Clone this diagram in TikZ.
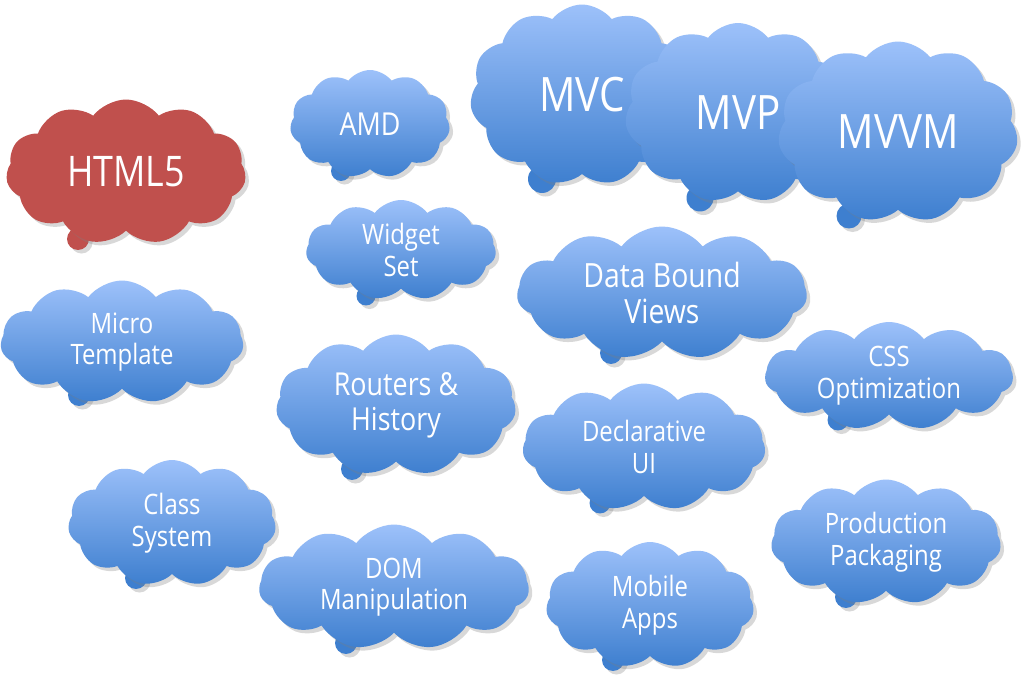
\documentclass[tikz,border=0pt]{standalone}
\usepackage{fontspec}
\setmainfont[FakeStretch=0.85]{Open Sans}
\usetikzlibrary{shapes.symbols,shadows}
\definecolor{cloudtop}{RGB}{157,193,250}
\definecolor{cloudbot}{RGB}{62,127,207}
\definecolor{htmlred}{RGB}{192,80,77}
\newcommand{\bigcloudfont}{\fontsize{27}{29}\selectfont}
\tikzset{
  cloudbox/.style={cloud, cloud puffs=11, cloud puff arc=105, cloud ignores aspect,
    inner sep=0pt, top color=cloudtop, bottom color=cloudbot, text=white, align=center,
    font=\fontsize{16}{18}\selectfont,
    drop shadow={shadow xshift=2pt, shadow yshift=-2pt, opacity=0.3}},
  redbox/.style={cloudbox, top color=htmlred, bottom color=htmlred},
  tailpuff/.style={fill=cloudbot, drop shadow={shadow xshift=2pt, shadow yshift=-2pt, opacity=0.3}}
}

\begin{document}
\begin{tikzpicture}[x=0.02cm, y=-0.02cm]
  \path[use as bounding box, fill=white] (0,0) rectangle (1024,685);

  % left column
  \fill[tailpuff, fill=htmlred] (78,239) circle[radius=0.22cm];
  \node[redbox, minimum width=4.8cm, minimum height=2.9cm, font=\fontsize{24}{26}\selectfont] (html) at (126,172) {HTML5};

  \fill[tailpuff] (79,395) circle[radius=0.22cm];
  \node[cloudbox, minimum width=4.86cm, minimum height=2.46cm] (micro) at (122,342) {Micro\\Template};

  \fill[tailpuff] (136,578) circle[radius=0.22cm];
  \node[cloudbox, minimum width=4.16cm, minimum height=2.52cm] (class) at (172,523) {Class\\System};

  % middle column
  \fill[tailpuff] (341,171) circle[radius=0.2cm];
  \node[cloudbox, minimum width=3.2cm, minimum height=2.16cm, font=\fontsize{18}{20}\selectfont] (amd) at (370,124) {AMD};

  \fill[tailpuff] (366,296) circle[radius=0.19cm];
  \node[cloudbox, minimum width=3.8cm, minimum height=2.0cm] (widget) at (401,250) {Widget\\Set};

  \fill[tailpuff] (352,469) circle[radius=0.22cm];
  \node[cloudbox, minimum width=4.8cm, minimum height=2.82cm, font=\fontsize{18}{20}\selectfont] (router) at (396,405) {Routers \&\\History};

  \fill[tailpuff] (346,643) circle[radius=0.22cm];
  \node[cloudbox, minimum width=5.4cm, minimum height=2.5cm] (dom) at (394,587) {DOM\\Manipulation};

  % patterns on top
  \fill[tailpuff] (542,179) circle[radius=0.28cm];
  \node[cloudbox, minimum width=4.48cm, minimum height=3.62cm, font=\bigcloudfont] (mvc) at (582,95) {MVC};

  \fill[tailpuff] (700,198) circle[radius=0.27cm];
  \node[cloudbox, minimum width=4.52cm, minimum height=3.6cm, font=\bigcloudfont] (mvp) at (738,113) {MVP};

  \fill[tailpuff] (849,216) circle[radius=0.25cm];
  \node[cloudbox, minimum width=4.8cm, minimum height=3.62cm, font=\bigcloudfont] (mvvm) at (898,132) {MVVM};

  % right side
  \fill[tailpuff] (611,353) circle[radius=0.22cm];
  \node[cloudbox, minimum width=5.8cm, minimum height=2.66cm, font=\fontsize{19}{21}\selectfont] (data) at (662,293) {Data Bound\\Views};

  \fill[tailpuff] (600,503) circle[radius=0.21cm];
  \node[cloudbox, minimum width=4.86cm, minimum height=2.54cm] (decl) at (644,447) {Declarative\\UI};

  \fill[tailpuff] (613,660) circle[radius=0.22cm];
  \node[cloudbox, minimum width=4.16cm, minimum height=2.52cm] (mobile) at (650,605) {Mobile\\Apps};

  \fill[tailpuff] (838,420) circle[radius=0.21cm];
  \node[cloudbox, minimum width=4.96cm, minimum height=2.04cm] (css) at (889,376) {CSS\\Optimization};

  \fill[tailpuff] (846,597) circle[radius=0.22cm];
  \node[cloudbox, minimum width=4.6cm, minimum height=2.5cm] (prod) at (886,542) {Production\\Packaging};
\end{tikzpicture}
\end{document}
